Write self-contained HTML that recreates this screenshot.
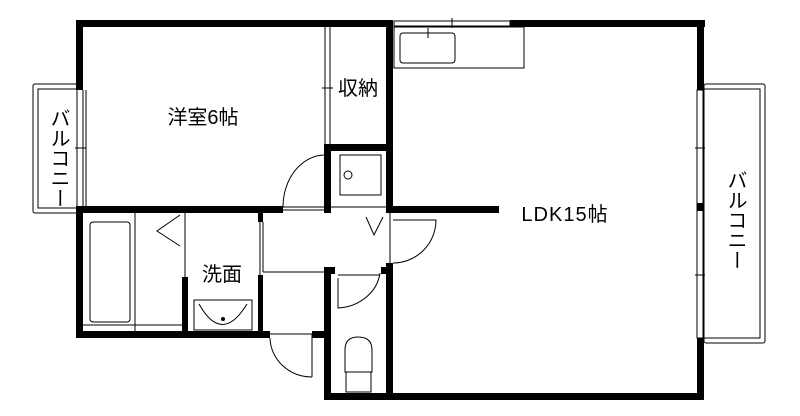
<!DOCTYPE html>
<html><head><meta charset="utf-8"><style>
html,body{margin:0;padding:0;background:#fff;}
svg{display:block;}
text{font-family:"Liberation Sans","Noto Sans CJK JP",sans-serif;fill:#000;}
</style></head><body>
<svg width="800" height="416" viewBox="0 0 800 416" xmlns="http://www.w3.org/2000/svg">
<g fill="none" stroke="#000" stroke-width="1">
 <rect x="33" y="84" width="44" height="129" rx="2"/>
 <rect x="38" y="89" width="39" height="119"/>
 <rect x="704" y="84" width="61" height="259" rx="2"/>
 <rect x="704" y="89" width="56" height="249"/>
 <line x1="83" y1="90" x2="83" y2="207"/><line x1="86" y1="90" x2="86" y2="207"/>
 <line x1="75" y1="148" x2="86" y2="148"/>
 <rect x="697" y="90" width="6" height="248"/>
 <line x1="695" y1="148" x2="705" y2="148"/><line x1="695" y1="275" x2="705" y2="275"/>
 <rect x="394" y="21" width="116" height="5"/>
 <line x1="452" y1="18" x2="452" y2="28"/>
 <rect x="394" y="27" width="130" height="41"/>
 <rect x="400" y="33" width="55" height="30" rx="3"/>
 <line x1="428" y1="28" x2="428" y2="38"/>
 <line x1="325" y1="27" x2="325" y2="145"/><line x1="330" y1="27" x2="330" y2="145"/>
 <line x1="322" y1="88" x2="333" y2="88"/>
 <rect x="340" y="155" width="41" height="40"/>
 <circle cx="348" cy="175" r="4"/>
 <line x1="331" y1="207" x2="387" y2="207"/>
 <path d="M283 207 A42 52 0 0 1 325 155"/>
 <line x1="283" y1="207" x2="325" y2="207"/><line x1="283" y1="210" x2="325" y2="210"/>
 <line x1="263" y1="272" x2="325" y2="272"/>
 <path d="M366 217 L374 235 L383 217"/>
 <path d="M393 263 A43 43 0 0 0 436 220 L393 220"/>
 <line x1="390" y1="213" x2="390" y2="263"/>
 <rect x="90" y="222" width="40" height="100" rx="3"/>
 <line x1="83" y1="325" x2="182" y2="325"/>
 <line x1="135" y1="213" x2="135" y2="332"/>
 <path d="M180 215 L157 231 L180 246"/>
 <line x1="185" y1="213" x2="185" y2="277"/>
 <rect x="194" y="300" width="58" height="30"/>
 <path d="M199 304 Q222 345 247 304"/>
 <circle cx="223" cy="319" r="1.5" fill="#000"/>
 <line x1="260" y1="222" x2="260" y2="332"/><line x1="263" y1="222" x2="263" y2="272"/>
 <line x1="270" y1="334" x2="312" y2="334"/>
 <line x1="312" y1="334" x2="312" y2="377"/>
 <path d="M270 338 A42 40 0 0 0 312 377"/>
 <path d="M338 278 L338 308 A45 40 0 0 0 380 273"/>
 <line x1="338" y1="275" x2="380" y2="275"/>
 <path d="M345 372 L345 350 Q345 337 358 337 Q372 337 372 350 L372 372 Z"/>
 <rect x="346" y="372" width="25" height="20"/>
</g>
<g fill="#000">
 <rect x="76" y="20" width="317" height="7"/>
 <rect x="510" y="20" width="195" height="7"/>
 <rect x="76" y="20" width="7" height="70"/>
 <rect x="697" y="20" width="7" height="70"/>
 <rect x="697" y="338" width="7" height="62"/>
 <rect x="697" y="203" width="7" height="8"/>
 <rect x="324" y="393" width="380" height="7"/>
 <rect x="386" y="20" width="7" height="193"/>
 <rect x="386" y="263" width="7" height="137"/>
 <rect x="76" y="206" width="207" height="7"/>
 <rect x="386" y="206" width="113" height="7"/>
 <rect x="324" y="144" width="69" height="7"/>
 <rect x="324" y="144" width="7" height="69"/>
 <rect x="76" y="206" width="7" height="132"/>
 <rect x="76" y="331" width="194" height="7"/>
 <rect x="312" y="331" width="13" height="7"/>
 <rect x="182" y="277" width="6" height="61"/>
 <rect x="258" y="213" width="5" height="9"/>
 <rect x="258" y="275" width="5" height="63"/>
 <rect x="324" y="267" width="7" height="133"/>
 <rect x="324" y="267" width="11" height="7"/>
 <rect x="381" y="267" width="12" height="7"/>
</g>
<text x="203" y="124" font-size="20" text-anchor="middle">洋室6帖</text>
<text x="358" y="95" font-size="20" text-anchor="middle">収納</text>
<text x="565" y="221" font-size="20" text-anchor="middle" letter-spacing="1">LDK15帖</text>
<text x="222" y="281" font-size="20" text-anchor="middle">洗面</text>
<text x="58" y="108" font-size="20" writing-mode="tb" text-anchor="start">バルコニー</text>
<text x="735" y="170" font-size="20" writing-mode="tb" text-anchor="start">バルコニー</text>
</svg>
</body></html>
